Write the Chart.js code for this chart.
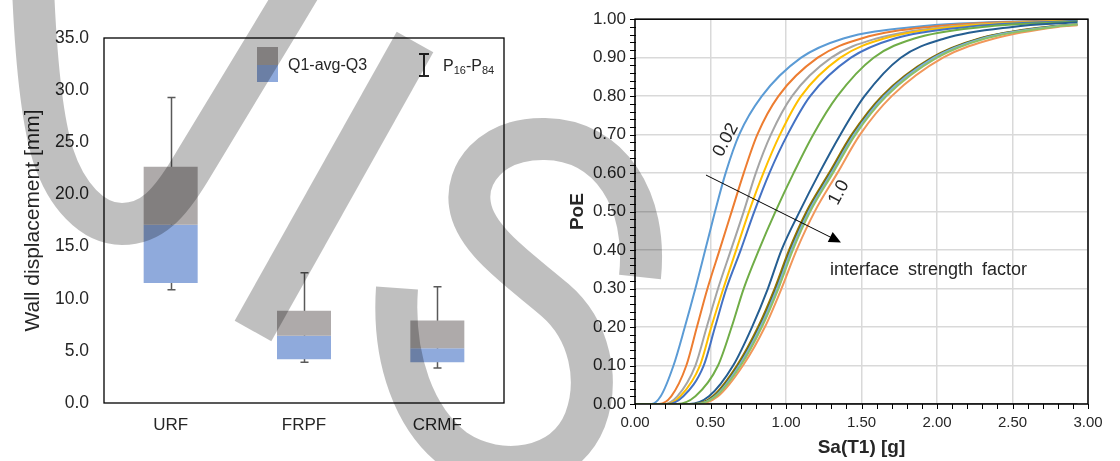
<!DOCTYPE html>
<html>
<head>
<meta charset="utf-8">
<script src="https://cdn.jsdelivr.net/npm/chart.js@4.4.0/dist/chart.umd.min.js"></script>
<style>
  body { margin: 0; background: #fff; }
  #page { position: relative; width: 1120px; height: 461px; overflow: hidden;
          font-family: Arial, "Liberation Sans", sans-serif; color: #262626; }
  canvas { position: absolute; top: 0; }
  #boxChart { left: 0; }
  #fragChart { left: 560px; }
  .lg { position: absolute; font-size: 16px; line-height: 16px; white-space: nowrap; }
  .lg sub { font-size: 11px; vertical-align: -3px; line-height: 0; }
  .blk { position: absolute; }
  #watermark { position: absolute; left: 0; top: 0; pointer-events: none; }
</style>
</head>
<body>
<div id="page">
  <canvas id="boxChart" width="560" height="461"></canvas>
  <canvas id="fragChart" width="560" height="461"></canvas>

  <!-- legend of the box chart -->
  <div class="blk" style="left:257px;top:47px;width:21px;height:18px;background:#AEAAAA"></div>
  <div class="blk" style="left:257px;top:65px;width:21px;height:17px;background:#8FAADC"></div>
  <div class="lg" style="left:288px;top:57px">Q1-avg-Q3</div>
  <div class="blk" style="left:423px;top:53px;width:2px;height:24px;background:#262626"></div>
  <div class="blk" style="left:419px;top:53px;width:10px;height:2px;background:#262626"></div>
  <div class="blk" style="left:419px;top:75px;width:10px;height:2px;background:#262626"></div>
  <div class="lg" style="left:443px;top:58px">P<sub>16</sub>-P<sub>84</sub></div>

  <svg id="watermark" width="1120" height="461">
    <g fill="none" stroke="rgba(0,0,0,0.25)" stroke-width="42" stroke-linecap="butt">
      <path d="M 300 -12 C 260 55, 215 128, 190 170 C 170 203, 152 224, 122 224 C 92 224, 66 195, 53 155 C 42 120, 36 60, 33 -12"/>
      <path d="M 253 331 L 415 42"/>
      <path d="M 640 277 C 648 200, 610 140, 545 139 C 490 138, 465 175, 470 205 C 475 240, 520 270, 555 300 C 590 330, 600 380, 585 420 C 565 470, 500 480, 455 450 C 415 420, 392 360, 397 288"/>
    </g>
  </svg>
</div>

<script>
// ---- left chart: wall displacement per retrofit ----
const categories = ['URF', 'FRPF', 'CRMF'];
const q1  = [11.5, 4.2, 3.9];
const avg = [17.1, 6.45, 5.25];
const q3  = [22.65, 8.85, 7.9];
const p16 = [10.85, 3.9, 3.35];
const p84 = [29.3, 12.5, 11.15];

// ---- right chart: fragility curves, Sa read at fixed PoE levels ----
const poeLevels = [0, 0.02, 0.1, 0.2, 0.3, 0.4, 0.5, 0.6, 0.7, 0.8, 0.9, 0.95, 0.98];
const saLast = 2.93;
const sa002 = [0.11, 0.17, 0.255, 0.33, 0.40, 0.465, 0.53, 0.60, 0.69, 0.84, 1.10, 1.38, 1.85];
const saB   = [0.16, 0.24, 0.34, 0.41, 0.48, 0.56, 0.64, 0.72, 0.81, 0.95, 1.21, 1.50, 1.95];
const saC   = [0.19, 0.28, 0.40, 0.475, 0.55, 0.635, 0.72, 0.80, 0.90, 1.04, 1.30, 1.60, 2.05];
const saD   = [0.21, 0.30, 0.43, 0.505, 0.585, 0.67, 0.755, 0.85, 0.96, 1.10, 1.36, 1.65, 2.10];
const saE   = [0.22, 0.32, 0.455, 0.53, 0.605, 0.70, 0.79, 0.89, 1.01, 1.16, 1.43, 1.72, 2.20];
const saF   = [0.28, 0.40, 0.55, 0.64, 0.72, 0.82, 0.93, 1.05, 1.18, 1.34, 1.58, 1.85, 2.30];
const saG   = [0.36, 0.49, 0.65, 0.775, 0.88, 0.97, 1.09, 1.22, 1.36, 1.52, 1.76, 2.05, 2.50];
const saH   = [0.39, 0.515, 0.675, 0.815, 0.925, 1.02, 1.135, 1.285, 1.435, 1.635, 1.965, 2.28, 2.72];
const saI   = [0.395, 0.525, 0.685, 0.825, 0.935, 1.03, 1.145, 1.295, 1.445, 1.645, 1.975, 2.29, 2.74];
const saJ   = [0.40, 0.53, 0.69, 0.83, 0.94, 1.035, 1.15, 1.30, 1.45, 1.65, 1.98, 2.30, 2.75];
const saK   = [0.42, 0.55, 0.715, 0.86, 0.97, 1.07, 1.19, 1.34, 1.49, 1.70, 2.04, 2.38, 2.80];
const sa10  = [0.405, 0.535, 0.70, 0.84, 0.95, 1.045, 1.16, 1.31, 1.46, 1.665, 2.00, 2.32, 2.77];
const curves = [sa002, saB, saC, saD, saE, saF, saG, saH, saI, saJ, saK, sa10];
const poeAtLast = [0.999, 0.998, 0.997, 0.997, 0.996, 0.994, 0.992, 0.986, 0.986, 0.986, 0.984, 0.986];
const zeroLine = [0, 0];
const curveColors = ['#5B9BD5', '#ED7D31', '#A5A5A5', '#FFC000', '#4472C4', '#70AD47',
                     '#255E91', '#997300', '#43682B', '#7CAFDD', '#F1975A', '#8CC168'];

Chart.defaults.font.family = 'Arial, "Liberation Sans", sans-serif';
Chart.defaults.color = '#262626';

// plot-area border plus optional minor tick marks
const framePlugin = {
  id: 'frame',
  afterDraw(chart, args, opts) {
    const { ctx, chartArea: a } = chart;
    ctx.save();
    ctx.strokeStyle = '#000';
    if (opts.minor) {
      ctx.lineWidth = 1;
      const { x, y } = chart.scales;
      ctx.beginPath();
      for (let v = 0; v <= 1.0001; v += 0.02) {
        const py = Math.round(y.getPixelForValue(v)) + 0.5;
        ctx.moveTo(a.left - 5, py); ctx.lineTo(a.left + 1, py);
      }
      for (let v = 0; v <= 3.0001; v += 0.1) {
        const px = Math.round(x.getPixelForValue(v)) + 0.5;
        ctx.moveTo(px, a.bottom); ctx.lineTo(px, a.bottom + 5);
      }
      ctx.stroke();
    }
    ctx.lineWidth = opts.width;
    ctx.strokeRect(a.left, a.top, a.right - a.left, a.bottom - a.top);
    ctx.restore();
  }
};

// P16-P84 whiskers, drawn behind the boxes
const whiskerPlugin = {
  id: 'whiskers',
  beforeDatasetsDraw(chart) {
    const { ctx, scales: { x, y } } = chart;
    ctx.save();
    ctx.strokeStyle = '#595959';
    ctx.lineWidth = 1.5;
    ctx.beginPath();
    categories.forEach((c, i) => {
      const px = Math.round(x.getPixelForValue(i)) + 0.5;
      const top = y.getPixelForValue(p84[i]);
      const bot = y.getPixelForValue(p16[i]);
      ctx.moveTo(px, top); ctx.lineTo(px, bot);
      ctx.moveTo(px - 4, top); ctx.lineTo(px + 4, top);
      ctx.moveTo(px - 4, bot); ctx.lineTo(px + 4, bot);
    });
    ctx.stroke();
    ctx.restore();
  }
};

new Chart(document.getElementById('boxChart'), {
  type: 'bar',
  data: {
    labels: categories,
    datasets: [
      { label: 'avg-Q3', data: categories.map((c, i) => [avg[i], q3[i]]), backgroundColor: '#AEAAAA' },
      { label: 'Q1-avg', data: categories.map((c, i) => [q1[i], avg[i]]), backgroundColor: '#8FAADC' }
    ]
  },
  options: {
    responsive: false,
    animation: false,
    devicePixelRatio: 1,
    layout: { padding: { left: 0, right: 56, top: 38, bottom: 0 } },
    datasets: { bar: { grouped: false, barPercentage: 0.405, categoryPercentage: 1, borderWidth: 0 } },
    plugins: {
      legend: { display: false },
      tooltip: { enabled: false },
      frame: { width: 1.3 }
    },
    scales: {
      x: {
        grid: { display: false, drawTicks: false }, border: { display: false },
        ticks: { font: { size: 17 }, padding: 12 },
        afterFit: s => { s.height = 58; }
      },
      y: {
        min: 0, max: 35,
        grid: { display: false, drawTicks: false }, border: { display: false },
        ticks: { stepSize: 5, font: { size: 17.5 }, padding: 15, callback: v => v.toFixed(1) },
        title: { display: true, text: 'Wall displacement [mm]', font: { size: 21 }, padding: { top: 21 } },
        afterFit: s => { s.width = 104; }
      }
    }
  },
  plugins: [whiskerPlugin, framePlugin]
});

// arrow and labels inside the fragility plot
const notePlugin = {
  id: 'notes',
  afterDatasetsDraw(chart) {
    const { ctx, scales: { x, y } } = chart;
    ctx.save();
    const x0 = x.getPixelForValue(0.47), y0 = y.getPixelForValue(0.595);
    const x1 = x.getPixelForValue(1.364), y1 = y.getPixelForValue(0.42);
    const ang = Math.atan2(y1 - y0, x1 - x0);
    ctx.strokeStyle = '#000'; ctx.fillStyle = '#000'; ctx.lineWidth = 1;
    ctx.beginPath();
    ctx.moveTo(x0, y0);
    ctx.lineTo(x1 - 10 * Math.cos(ang), y1 - 10 * Math.sin(ang));
    ctx.stroke();
    ctx.beginPath();
    ctx.moveTo(x1, y1);
    ctx.lineTo(x1 - 12 * Math.cos(ang) + 5.5 * Math.sin(ang), y1 - 12 * Math.sin(ang) - 5.5 * Math.cos(ang));
    ctx.lineTo(x1 - 12 * Math.cos(ang) - 5.5 * Math.sin(ang), y1 - 12 * Math.sin(ang) + 5.5 * Math.cos(ang));
    ctx.closePath();
    ctx.fill();

    ctx.fillStyle = '#262626';
    ctx.textAlign = 'center'; ctx.textBaseline = 'middle';
    ctx.font = '18px Arial, "Liberation Sans", sans-serif';
    [['0.02', 0.601, 0.686], ['1.0', 1.351, 0.549]].forEach(([t, sx, sy]) => {
      ctx.save();
      ctx.translate(x.getPixelForValue(sx), y.getPixelForValue(sy));
      ctx.rotate(-62 * Math.PI / 180);
      ctx.fillText(t, 0, 0);
      ctx.restore();
    });
    // the words sit a little apart in the original
    ctx.textAlign = 'left';
    ctx.font = '18px Arial, "Liberation Sans", sans-serif';
    let tx = x.getPixelForValue(1.291);
    const ty = y.getPixelForValue(0.349);
    'interface strength factor'.split(' ').forEach(w => {
      ctx.fillText(w, tx, ty);
      tx += ctx.measureText(w + ' ').width + 4;
    });
    ctx.restore();
  }
};

const fragSets = curves.map((sa, i) => ({
  label: 'curve ' + (i + 1),
  data: [{ x: 0, y: 0 }, ...sa.map((s, k) => ({ x: s, y: poeLevels[k] })), { x: saLast, y: poeAtLast[i] }],
  borderColor: curveColors[i],
  order: 40 - i
}));
fragSets.splice(7, 0, {
  label: 'zero',
  data: [{ x: 0, y: zeroLine[0] }, { x: saLast, y: zeroLine[1] }],
  borderColor: '#7F7F7F',
  order: 33.5
});

new Chart(document.getElementById('fragChart'), {
  type: 'line',
  data: { datasets: fragSets },
  options: {
    responsive: false,
    animation: false,
    devicePixelRatio: 1,
    layout: { padding: { left: 0, right: 32, top: 14, bottom: 0 } },
    elements: {
      point: { radius: 0 },
      line: { borderWidth: 2, cubicInterpolationMode: 'monotone', fill: false }
    },
    plugins: {
      legend: { display: false },
      tooltip: { enabled: false },
      frame: { width: 1.5, minor: true }
    },
    scales: {
      x: {
        type: 'linear', min: 0, max: 3,
        grid: { color: '#D9D9D9', lineWidth: 1.5, drawTicks: false }, border: { display: false },
        ticks: { stepSize: 0.5, font: { size: 15 }, padding: 10, maxRotation: 0, callback: v => v.toFixed(2) },
        title: { display: true, text: 'Sa(T1) [g]', font: { size: 19, weight: 'bold' }, padding: { top: 0, bottom: 2 } },
        afterFit: s => { s.height = 57; }
      },
      y: {
        min: 0, max: 1,
        grid: { color: '#D9D9D9', lineWidth: 1.5, drawTicks: false }, border: { display: false },
        ticks: { stepSize: 0.1, font: { size: 17 }, padding: 9, callback: v => v.toFixed(2) },
        title: { display: true, text: 'PoE', font: { size: 19, weight: 'bold' }, padding: { top: 6 } },
        afterFit: s => { s.width = 75; }
      }
    }
  },
  plugins: [notePlugin, framePlugin]
});
</script>
</body>
</html>
